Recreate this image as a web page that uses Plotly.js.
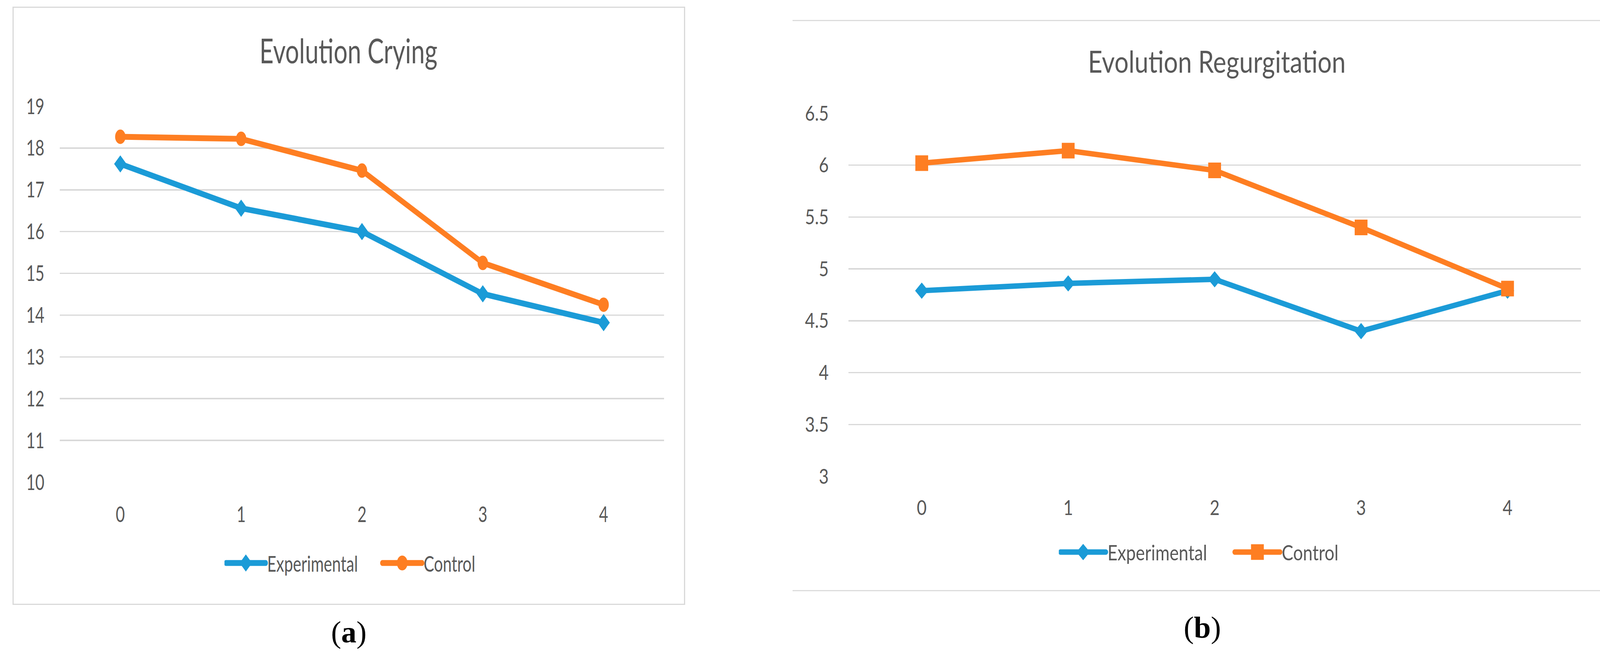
<!DOCTYPE html>
<html>
<head>
<meta charset="utf-8">
<script src="https://cdn.plot.ly/plotly-3.0.1.min.js"></script>
<style>
  html, body { margin: 0; padding: 0; background: #ffffff; }
  body { width: 4137px; height: 1689px; position: relative; overflow: hidden; }
  .box { position: absolute; box-sizing: border-box; }
  #boxA { left: 32px; top: 17px; width: 1722px; height: 1531px; border: 3px solid #d9d9d9; }
  #boxB { left: 2029px; top: 51px; width: 2080px; height: 1462px; border-top: 3px solid #dcdcdc; border-right: 3px solid #dcdcdc; border-bottom: 3px solid #dcdcdc; }
  .wrap { position: absolute; top: 0; height: 1689px; overflow: hidden; }
  #wrapA { left: 0; width: 1950px; }
  #wrapB { left: 1950px; width: 2187px; }
  #chartA { position: absolute; left: 0; top: 0; width: 2640px; height: 1689px; transform: scaleX(0.72); transform-origin: 0 0; }
  #chartB { position: absolute; left: 0; top: 0; width: 2667px; height: 1689px; transform: scaleX(0.82); transform-origin: 0 0; }
  .cap { position: absolute; font-family: "Liberation Serif", "Times New Roman", serif; font-size: 78px; color: #000; transform: translate(-50%, -50%); white-space: nowrap; line-height: 1; }
</style>
</head>
<body>
<div class="box" id="boxA"></div>
<div class="box" id="boxB"></div>
<div class="wrap" id="wrapA"><div id="chartA"></div></div>
<div class="wrap" id="wrapB"><div id="chartB"></div></div>
<div class="cap" style="left:893px; top:1618px;">(<b>a</b>)</div>
<div class="cap" style="left:3078px; top:1606px;">(<b>b</b>)</div>
<script>
// ---- data ----
const categories = ['0', '1', '2', '3', '4'];
const seriesNames = ['Experimental', 'Control'];
const cryingExperimental = [17.62, 16.56, 16.0, 14.51, 13.82];
const cryingControl = [18.27, 18.22, 17.46, 15.25, 14.25];
const regurgExperimental = [4.79, 4.86, 4.90, 4.40, 4.79];
const regurgControl = [6.02, 6.14, 5.95, 5.40, 4.81];
const cryingTitle = 'Evolution Crying';
const regurgTitle = 'Evolution Regurgitation';

const BLUE = '#1b9bd7';
const ORANGE = '#fe7e22';
const TXT = '#595959';
const FONT = 'Lato, "Open Sans", sans-serif';

function makeChart(id, cfg) {
  const traces = [
    { type: 'scatter', mode: 'lines+markers', name: seriesNames[0], x: categories, y: cfg.exp,
      line: { color: BLUE, width: cfg.lw }, marker: { symbol: 'diamond', size: cfg.dsize, color: BLUE } },
    { type: 'scatter', mode: 'lines+markers', name: seriesNames[1], x: categories, y: cfg.ctl,
      line: { color: ORANGE, width: cfg.lw }, marker: { symbol: cfg.csym, size: cfg.csize, color: ORANGE } }
  ];
  const layout = {
    width: cfg.W, height: 1689,
    margin: { l: cfg.ml, r: cfg.W - cfg.pr, t: cfg.mt, b: 1689 - cfg.pb, pad: 0 },
    paper_bgcolor: 'rgba(0,0,0,0)', plot_bgcolor: 'rgba(0,0,0,0)',
    font: { family: FONT, color: TXT, size: cfg.fs },
    title: { text: cfg.title, font: { family: FONT, size: cfg.tfs, color: TXT },
             xref: 'container', yref: 'container', x: cfg.tx, y: cfg.ty, xanchor: 'center', yanchor: 'middle' },
    showlegend: true,
    legend: { orientation: 'h', x: cfg.lx, y: cfg.ly, xanchor: 'left', yanchor: 'middle',
              font: { family: FONT, size: cfg.lfs, color: TXT }, itemwidth: 142,
              entrywidth: cfg.ew, entrywidthmode: 'pixels', bgcolor: 'rgba(0,0,0,0)' },
    xaxis: { type: 'category', range: [-0.5, 4.5], showgrid: false, zeroline: false, showline: false,
             ticks: '', tickfont: { family: FONT, size: cfg.fs, color: TXT }, ticklabelstandoff: cfg.xst, fixedrange: true },
    yaxis: { range: cfg.yr, dtick: cfg.dt, showgrid: true, gridcolor: '#d9d9d9', gridwidth: 3.5,
             zeroline: false, showline: false, ticks: '', tickfont: { family: FONT, size: cfg.fs, color: TXT },
             ticklabelstandoff: cfg.yst, fixedrange: true }
  };
  return Plotly.newPlot(id, traces, layout, { displayModeBar: false, staticPlot: true }).then(function (gd) {
    // enlarge the legend symbols to the size of the chart markers (as in the reference)
    const items = gd.querySelectorAll('.legend .traces');
    items.forEach(function (item, i) {
      item.querySelectorAll('path.js-line').forEach(function (p) {
        p.style.strokeWidth = cfg.lw + 'px';
        p.style.strokeLinecap = 'round';
      });
      item.querySelectorAll('path.scatterpts').forEach(function (p) {
        const bb = p.getBBox();
        if (bb.height > 0) {
          const k = cfg.legH[i] / bb.height;
          const old = p.getAttribute('transform') || '';
          p.setAttribute('transform', old + ' scale(' + k + ')');
        }
      });
    });
  });
}

// chart (a): compressed horizontally by 0.72 (unscaled coordinates below)
makeChart('chartA', {
  W: 2640, ml: 212.5, pr: 2361, mt: 272, pb: 1234,
  exp: cryingExperimental, ctl: cryingControl, yr: [10, 19], dt: 1,
  title: cryingTitle, tfs: 87, tx: 0.4693, ty: 1 - 132 / 1689,
  fs: 56, lfs: 56, lx: 0.2724, ly: -0.215, ew: 399, xst: 45, yst: 54,
  lw: 15, dsize: 34, csym: 'circle', csize: 37, legH: [44, 38]
});

// chart (b): compressed horizontally by 0.82
makeChart('chartB', {
  W: 2667, ml: 271.3, pr: 2557.3, mt: 290, pb: 1219,
  exp: regurgExperimental, ctl: regurgControl, yr: [3, 6.5], dt: 0.5,
  title: regurgTitle, tfs: 78, tx: 0.5328, ty: 1 - 159 / 1689,
  fs: 53, lfs: 54, lx: 0.2872, ly: -0.209, ew: 387, xst: 45, yst: 61,
  lw: 14, dsize: 32, csym: 'square', csize: 40, legH: [42, 40]
});
</script>
</body>
</html>
